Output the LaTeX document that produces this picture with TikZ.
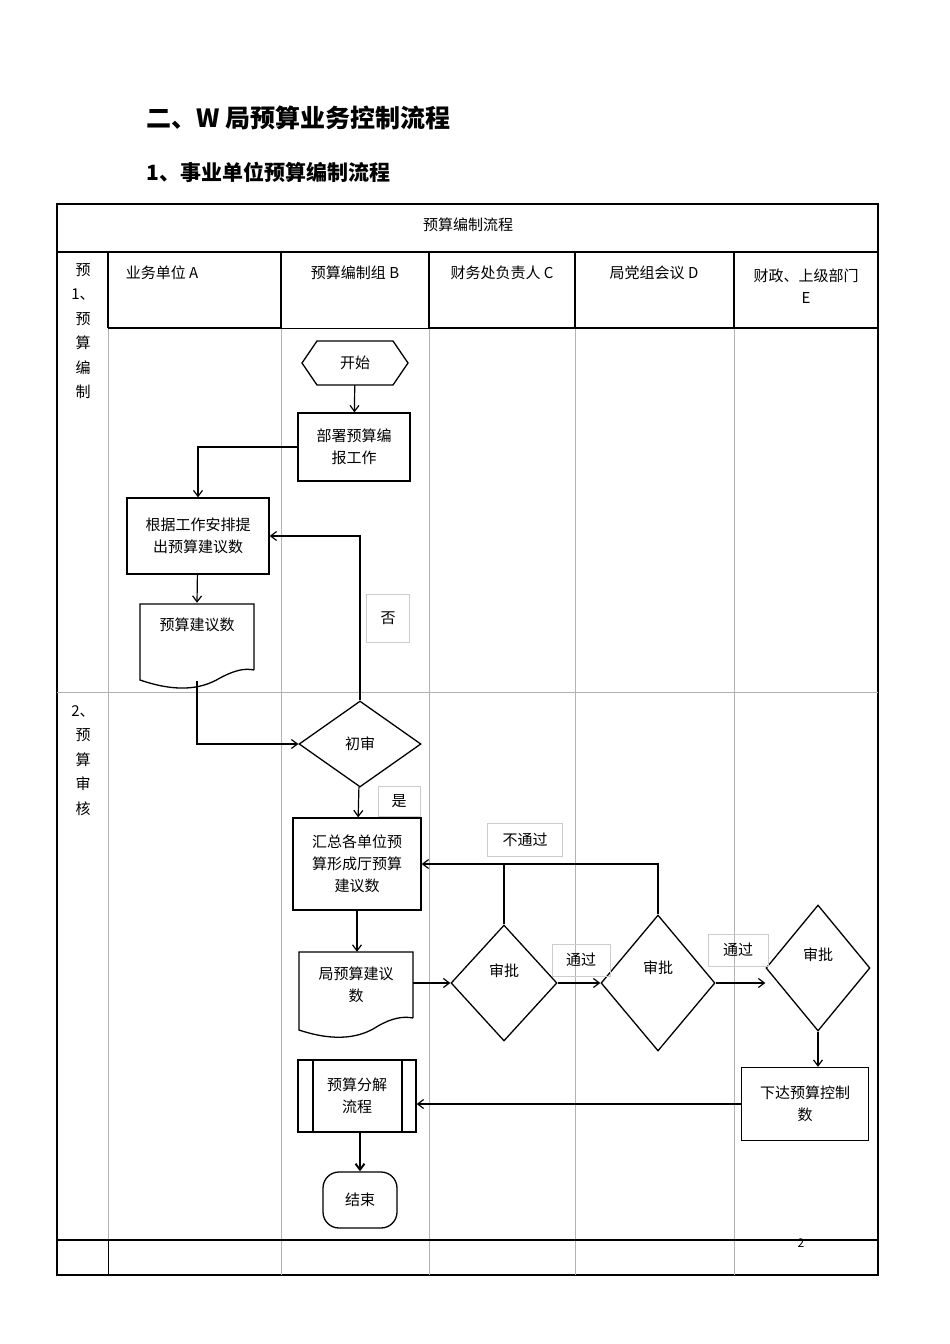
\documentclass[tikz,border=0pt]{standalone}
\usepackage{fontspec}
\setmainfont{Noto Sans CJK SC}
\usetikzlibrary{shapes.geometric,arrows.meta}
\begin{document}
\begin{tikzpicture}[x=1pt,y=-1pt,
  txt/.style={font=\fontsize{15}{22}\selectfont,align=center,inner sep=1pt},
  box/.style={txt,draw,line width=1.3pt,rectangle},
  dia/.style={txt,draw,line width=1.3pt,diamond,inner sep=0pt},
  lbl/.style={txt,draw=gray!40,line width=0.5pt,rectangle},
  arr/.style={line width=1.2pt,-{Straight Barb[length=6pt,width=9pt]}},
  lane/.style={gray!60,line width=0.8pt}]
\useasboundingbox (0,0) rectangle (950,1344);
\fill[white] (0,0) rectangle (950,1344);
% titles
\node[anchor=west,font=\fontsize{25}{28}\bfseries\selectfont] (t1) at (143,118) {二、W 局预算业务控制流程};
\node[anchor=west,font=\fontsize{21}{24}\bfseries\selectfont] (t2) at (143,172) {1、事业单位预算编制流程};
% table
\draw[line width=1.3pt] (57,204) rectangle (878,1275);
\draw[line width=1.3pt] (57,252) -- (878,252);
\node[txt] (hd) at (468,225) {预算编制流程};
\foreach \x in {108,281,429,575,734} \draw[lane] (\x,252) -- (\x,1275);
\draw[line width=1.3pt] (108,252) -- (878,252);
\draw[line width=1.3pt] (108,328) -- (281,328);
\draw[line width=1.3pt] (429,328) -- (878,328);
\draw[line width=1pt] (281,328) -- (429,328);
\foreach \x in {108,281,429,575,734} \draw[line width=1.2pt] (\x,252) -- (\x,328);
\draw[lane] (57,692) -- (878,692);
\draw[line width=1.3pt] (57,1240) -- (878,1240);
\draw[line width=1pt] (108,1240) -- (108,1275);
\node[txt] (la) at (162,273) {业务单位 A};
\node[txt] (lb) at (355,273) {预算编制组 B};
\node[txt] (lc) at (502,273) {财务处负责人 C};
\node[txt] (ld) at (654,273) {局党组会议 D};
\node[txt,align=center] (le) at (806,286) {财政、上级部门\\E};
\node[txt,anchor=north,font=\fontsize{15}{24.5}\selectfont] (p1) at (83,262) {预\\1、\\预\\算\\编\\制};
\node[txt,anchor=north,font=\fontsize{15}{24.5}\selectfont] (p2) at (83,704) {2、\\预\\算\\审\\核};
\node[font=\fontsize{12}{14}\selectfont] (pg) at (801,1243) {2};
% start hexagon
\node[txt,minimum width=105pt,minimum height=44pt] (start) at (355,363) {开始};
\draw[line width=1.3pt] (302,363) -- (317,341) -- (393,341) -- (408,363) -- (393,385) -- (317,385) -- cycle;
\node[box,minimum width=112pt,minimum height=68pt] (bs) at (354,447) {部署预算编\\报工作};
\node[box,minimum width=142pt,minimum height=76pt] (gj) at (198,536) {根据工作安排提\\出预算建议数};
% document 1
\node[txt,minimum width=114pt,minimum height=78pt] (ys) at (197,642) {};
\node[txt] at (197,625) {预算建议数};
\draw[line width=1.3pt] (254,670) -- (254,604) -- (140,604) -- (140,680)
  .. controls (175,692) and (200,690) .. (220,678) .. controls (235,670) and (245,668) .. (254,670);
\node[dia,minimum width=122pt,minimum height=86pt] (cs) at (360,744) {初审};
\node[box,minimum width=128pt,minimum height=92pt] (hz) at (357,864) {汇总各单位预\\算形成厅预算\\建议数};
% document 2
\node[txt,minimum width=114pt,minimum height=80pt] (jy) at (356,992) {};
\node[txt] at (356,985) {局预算建议\\数};
\draw[line width=1.3pt] (413,1018) -- (413,952) -- (299,952) -- (299,1030)
  .. controls (335,1042) and (360,1038) .. (378,1026) .. controls (392,1018) and (403,1016) .. (413,1018);
\node[dia,minimum width=106pt,minimum height=116pt] (sc) at (504,983) {};
\node[txt] at (504,971) {审批};
\node[dia,minimum width=114pt,minimum height=136pt] (sd) at (658,983) {};
\node[txt] at (658,968) {审批};
\node[dia,minimum width=104pt,minimum height=126pt] (se) at (818,968) {};
\node[txt] at (818,955) {审批};
\node[box,minimum width=127pt,minimum height=73pt] (xd) at (805,1104) {下达预算控制\\数};
\node[box,minimum width=118pt,minimum height=72pt] (fj) at (357,1096) {预算分解\\流程};
\draw[line width=1.3pt] (313,1060) -- (313,1132) (402,1060) -- (402,1132);
\node[txt,draw,line width=1.3pt,rounded corners=16pt,minimum width=74pt,minimum height=56pt] (end) at (360,1200) {结束};
% labels
\node[lbl,minimum width=43pt,minimum height=48pt] (no) at (388,618) {否};
\node[lbl,minimum width=42pt,minimum height=30pt] (yes) at (399,801) {是};
\node[lbl,minimum width=75pt,minimum height=33pt] (bt) at (525,840) {不通过};
\node[lbl,minimum width=58pt,minimum height=32pt] (tg1) at (581,960) {通过};
\node[lbl,minimum width=60pt,minimum height=32pt] (tg2) at (738,950) {通过};
% connectors
\draw[arr] (start) -- (bs);
\draw[arr] (bs.west) -| (gj.north);
\draw[arr] (gj) -- (ys.north);
\draw[arr] (ys.south) |- (cs.west);
\draw[arr] (cs.north) |- (gj.east);
\draw[arr] (cs) -- (hz);
\draw[arr] (hz.south) -- (hz.south |- jy.north);
\draw[arr] (jy.east |- sc) -- (sc.west);
\draw[arr] (sc) -- (sd);
\draw[arr] (sd.east) -- (se.west |- sd.east);
\draw[arr] (sd.north) |- (hz.east);
\draw[line width=1.2pt] (sc.north) -- (sc.north |- hz.east);
\draw[arr] (se.south) -- (se.south |- xd.north);
\draw[arr] (xd.west) -- (fj.east |- xd.west);
\draw[line width=2pt,-{Straight Barb[length=6pt,width=9pt]}] (fj.south -| end) -- (end);
\end{tikzpicture}
\end{document}
